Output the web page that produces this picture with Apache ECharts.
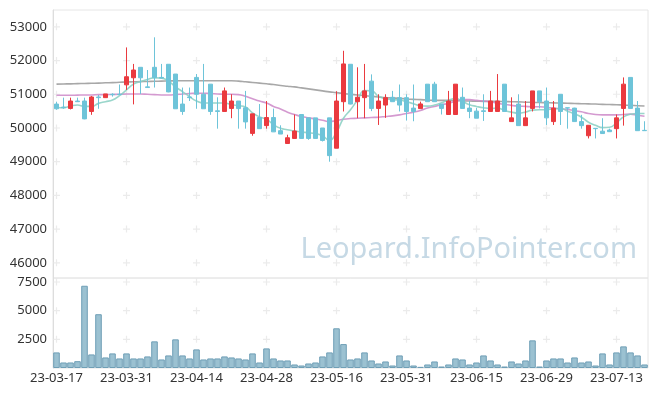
<!DOCTYPE html>
<html><head><meta charset="utf-8">
<script src="https://cdn.jsdelivr.net/npm/echarts@6/dist/echarts.min.js"></script>
<style>html,body{margin:0;padding:0;background:#fff}#c{width:657px;height:396px}</style>
</head><body><div id="c"></div>
<script>
const dates = ['23-03-17','23-03-20','23-03-21','23-03-22','23-03-23','23-03-24','23-03-27','23-03-28','23-03-29','23-03-30','23-03-31',
'23-04-03','23-04-04','23-04-05','23-04-06','23-04-07','23-04-10','23-04-11','23-04-12','23-04-13','23-04-14','23-04-17','23-04-18','23-04-19','23-04-20','23-04-21','23-04-24','23-04-25','23-04-26','23-04-27','23-04-28',
'23-05-02','23-05-03','23-05-04','23-05-08','23-05-09','23-05-10','23-05-11','23-05-12','23-05-15','23-05-16','23-05-17','23-05-18','23-05-19','23-05-22','23-05-23','23-05-24','23-05-25','23-05-26','23-05-30','23-05-31',
'23-06-01','23-06-02','23-06-05','23-06-07','23-06-08','23-06-09','23-06-12','23-06-13','23-06-14','23-06-15','23-06-16','23-06-19','23-06-20','23-06-21','23-06-22','23-06-23','23-06-26','23-06-27','23-06-28','23-06-29','23-06-30',
'23-07-03','23-07-04','23-07-05','23-07-06','23-07-07','23-07-10','23-07-11','23-07-12','23-07-13','23-07-14','23-07-17','23-07-18','23-07-19'];
const openP  = [50710,50620,50580,50800,50800,50490,50920,50900,51000,51000,51280,51490,51800,51220,51800,51500,51890,51600,50710,50920,51500,51000,51300,50510,50490,50580,50800,50600,49840,50310,50070,50310,49920,49540,49690,50400,50300,50300,50000,50300,49400,50780,51890,50780,50900,51390,50580,50680,50910,50900,50900,50590,50575,51300,51300,50710,50400,50400,50910,50590,50500,50510,50490,50490,51300,50190,50710,50070,50580,51100,50800,50190,51000,50600,50590,50190,49770,49990,49905,49940,49980,50580,51500,50590,49930];
const closeP = [50570,50600,50800,50780,50270,50920,50900,51010,50990,50990,51520,51720,51490,51200,51490,51480,51070,50570,50490,50900,51000,50570,50490,50490,51100,50800,50575,50180,50420,49980,50310,49885,49820,49710,49910,49690,49690,49690,49630,49180,50800,51900,50710,50910,51100,50580,50800,50900,50780,50680,50490,50490,50713,50780,50780,50580,50800,51300,50580,50490,50290,50490,50800,50800,50490,50300,50070,50300,51100,50780,50300,50590,50490,50590,50190,50070,50080,49980,49835,49890,50300,51300,50580,49920,49920];
const lowP   = [50540,50570,50550,50770,50260,50390,50570,50900,50930,50990,51130,50700,51010,51190,51200,51470,51060,50570,50390,50800,50570,50570,50390,49980,50490,50290,49980,49980,49770,49980,49980,49880,49820,49540,49690,49680,49650,49690,49600,49000,49400,50490,50700,50290,50290,50500,50090,50300,50780,50490,50220,50200,50575,50780,50780,50400,50400,50400,50580,50290,50290,50210,50490,50490,50490,50190,50070,50070,50490,50580,50090,50090,50090,49980,50190,49980,49690,49690,49835,49890,49690,50070,50580,49920,49920];
const highP  = [50780,50900,50900,50900,50900,50950,50980,51010,51030,51290,52390,51900,51800,51720,52690,51900,51890,51600,51200,51200,51600,51900,51300,50910,51200,51000,50800,51100,50420,50710,50800,50575,50080,49800,50400,50400,50300,50300,50000,50300,51090,52290,51890,51800,51900,51590,51000,51000,51100,51290,51000,51290,50782,51300,51370,50710,51100,51300,51200,50800,50600,51000,51100,51600,51300,50910,51000,50800,51100,51100,51200,50800,51000,50600,50600,50390,50080,49990,50290,49980,50400,51500,51500,50800,50200];
const ma5  = [50615,50600,50650,50680,50640,50640,50730,50780,50830,50960,51130,51300,51380,51440,51490,51480,51390,51220,51080,50930,50800,50740,50740,50740,50740,50690,50660,50620,50450,50330,50260,50100,49990,49950,49910,49880,49860,49830,49770,49630,49880,50290,50540,50830,51110,51100,50940,50870,50840,50830,50780,50720,50660,50650,50680,50750,50830,50870,50790,50690,50640,50600,50580,50590,50520,50470,50440,50470,50530,50540,50540,50570,50580,50500,50420,50320,50170,50080,50010,50020,50150,50330,50410,50430,50430];
const ma20 = [50970,50970,50970,50975,50980,50980,50990,50990,50995,51000,51010,51010,51010,51000,50990,50980,50980,50990,51010,51020,51030,51030,51020,51010,51000,51000,50990,50940,50870,50800,50740,50640,50560,50470,50400,50340,50300,50270,50230,50190,50220,50260,50280,50290,50300,50310,50320,50340,50360,50390,50430,50470,50520,50590,50640,50690,50730,50790,50840,50840,50820,50800,50780,50730,50700,50670,50650,50640,50630,50630,50610,50590,50570,50550,50520,50480,50430,50400,50390,50390,50390,50400,50410,50380,50350];
const ma60 = [51300,51305,51310,51315,51320,51325,51330,51340,51345,51355,51365,51370,51375,51380,51385,51390,51395,51400,51400,51400,51400,51400,51400,51400,51400,51400,51390,51370,51350,51330,51310,51290,51260,51240,51220,51190,51160,51130,51100,51070,51050,51020,51000,50980,50960,50940,50920,50900,50890,50880,50860,50850,50840,50830,50820,50820,50815,50810,50805,50800,50795,50790,50790,50790,50785,50780,50775,50765,50760,50755,50750,50745,50740,50735,50725,50720,50715,50710,50700,50695,50690,50680,50670,50660,50650];
const volume = [1359,482,482,596,7174,1184,4692,921,1272,833,1272,833,833,1009,2324,745,1096,2499,1096,833,1622,745,833,833,1009,921,833,745,1272,482,1710,833,658,658,307,219,395,482,1009,1359,3463,2087,745,833,1359,658,395,570,219,1096,658,219,100,307,570,131,307,833,745,307,482,1096,658,307,131,570,395,658,2411,131,658,833,833,482,921,482,570,219,1272,307,1359,1885,1359,1096,307];
const priceTicks = [46000,47000,48000,49000,50000,51000,52000,53000];
const volTicks = [2500,5000,7500];
const labelDates = dates.filter((d,i)=>i%10===0);

const ohlc = dates.map((d,i)=>[openP[i],closeP[i],lowP[i],highP[i]]);
const crossPath = 'path://M2.5,0H3.5V2.5H6V3.5H3.5V6H2.5V3.5H0V2.5H2.5Z';
const crossMain = [], crossVol = [];
labelDates.forEach(d=>{ priceTicks.forEach(v=>crossMain.push([d,v])); volTicks.forEach(v=>crossVol.push([d,v])); });

const FONT = 'Noto Sans';
const chart = echarts.init(document.getElementById('c'), null, {renderer:'canvas'});
const maLine = (name, data, color) => ({
  name, type:'line', data, xAxisIndex:0, yAxisIndex:0, symbol:'none', smooth:true, silent:true,
  lineStyle:{color, width:1.6, opacity:0.85}, z:3
});
chart.setOption({
  animation:false,
  backgroundColor:'#ffffff',
  grid:[
    {left:53, right:9, top:10, height:268, show:true, borderColor:'#e6e6e6', borderWidth:1},
    {left:53, right:9, top:278, height:90, show:true, borderColor:'#e6e6e6', borderWidth:1}
  ],
  xAxis:[
    {type:'category', gridIndex:0, data:dates, boundaryGap:true,
     axisLine:{show:false}, axisTick:{show:false}, axisLabel:{show:false}, splitLine:{show:false}},
    {type:'category', gridIndex:1, data:dates, boundaryGap:true,
     axisLine:{show:false}, axisTick:{show:false}, splitLine:{show:false},
     axisLabel:{interval:9, margin:4, color:'#333', fontSize:13, fontFamily:FONT}}
  ],
  yAxis:[
    {type:'value', gridIndex:0, min:45550, max:53500, splitNumber:8, scale:true,
     axisLine:{show:true, lineStyle:{color:'#dddddd'}}, axisTick:{show:false}, splitLine:{show:false},
     axisLabel:{color:'#333', fontSize:13, fontFamily:FONT, margin:6,
       formatter:v=> priceTicks.indexOf(v)>=0 ? String(v) : ''}},
    {type:'value', gridIndex:1, min:0, max:7850, interval:2500,
     axisLine:{show:true, lineStyle:{color:'#dddddd'}}, axisTick:{show:false}, splitLine:{show:false},
     axisLabel:{color:'#333', fontSize:13, fontFamily:FONT, margin:6,
       formatter:v=> volTicks.indexOf(v)>=0 ? String(v) : ''}}
  ],
  graphic:[{type:'text', right:20, top:235, z:0, silent:true,
    style:{text:'Leopard.InfoPointer.com', font:'29px "Noto Sans"', fill:'#c6d9e5'}}],
  series:[
    {type:'scatter', xAxisIndex:0, yAxisIndex:0, data:crossMain, symbol:crossPath, symbolSize:7, silent:true,
     itemStyle:{color:'#e6e6e6'}, z:1},
    {type:'scatter', xAxisIndex:1, yAxisIndex:1, data:crossVol, symbol:crossPath, symbolSize:7, silent:true,
     itemStyle:{color:'#e6e6e6'}, z:1},
    {type:'candlestick', xAxisIndex:0, yAxisIndex:0, data:ohlc, barWidth:5, z:4,
     itemStyle:{color:'#ea3a3f', color0:'#6ec4d9', borderColor:'#ea3a3f', borderColor0:'#6ec4d9', borderWidth:1}},
    maLine('MA60', ma60, '#999999'),
    maLine('MA20', ma20, '#cc88c8'),
    maLine('MA5', ma5, '#88cfc2'),
    {type:'bar', xAxisIndex:1, yAxisIndex:1, data:volume, barCategoryGap:'6%', z:3,
     itemStyle:{color:'#9bc1d1', borderColor:'#6f9fb6', borderWidth:1}}
  ]
});
</script></body></html>
